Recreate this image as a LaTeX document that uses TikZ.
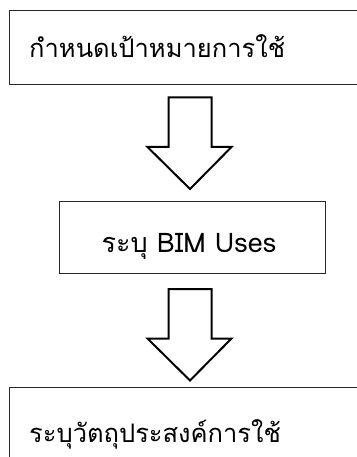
\documentclass[tikz,border=0pt]{standalone}
\usepackage{fontspec}
\newfontfamily\thaifont[Script=Thai]{Loma}
\begin{document}
\begin{tikzpicture}[x=1pt,y=-1pt,
  stagebox/.style={draw=black!85, line width=1pt, rectangle, inner sep=0pt, anchor=north west},
  stagetext/.style={font=\thaifont\fontsize{25.5}{30}\selectfont, inner sep=0pt},
  blockarrow/.style={draw=black, line width=2pt, fill=white, line join=miter}]
  \useasboundingbox (0,0) rectangle (356,457);

  % three process stages
  \node[stagebox, minimum width=370pt, minimum height=73.5pt] (goal) at (8.5,10.5) {};
  \node[stagetext, anchor=base west] (goaltext) at (29,58) {กำหนดเป้าหมายการใช้};

  \node[stagebox, minimum width=266.5pt, minimum height=72.5pt] (uses) at (58.5,200.5) {};
  \node[stagetext, font=\thaifont\fontsize{27}{32}\selectfont, anchor=base] (usestext) at (189,252) {ระบุ BIM Uses};

  \node[stagebox, minimum width=370pt, minimum height=80pt] (purpose) at (8.5,387) {};
  \node[stagetext, anchor=base west] (purposetext) at (29,442) {ระบุวัตถุประสงค์การใช้};

  % hollow block arrows between the stages
  \coordinate (arrowA) at (190,97.5);
  \coordinate (arrowB) at (190,289);
  \foreach \c in {arrowA,arrowB}{
    \draw[blockarrow] (\c) ++(-21.5,0) -- ++(43,0) -- ++(0,49.5) -- ++(20,0)
      -- ++(-41.5,42) -- ++(-42.5,-42) -- ++(21,0) -- cycle;
  }
\end{tikzpicture}
\end{document}
